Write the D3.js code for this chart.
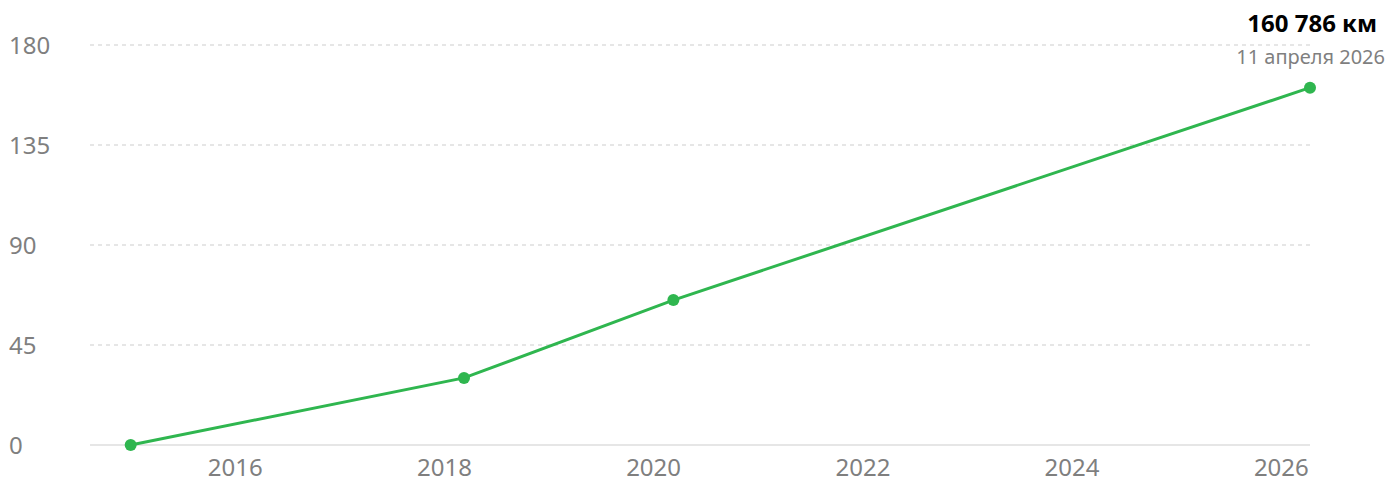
<!DOCTYPE html>
<html>
<head>
<meta charset="utf-8">
<script src="https://cdn.jsdelivr.net/npm/d3@7"></script>
<style>
  body { margin: 0; background: #fff; }
  svg { display: block; font-family: "Noto Sans", "Open Sans", sans-serif; }
</style>
</head>
<body>
<script>
document.addEventListener('DOMContentLoaded', function() {
    const w = 1390;
    const h = 483;

    // Data: mileage, thousands of km
    const dates = ["2015-01-01", "2018-03-10", "2020-03-10", "2026-04-11"];
    const mileage = [0, 30.2, 65.2, 160.786];
    const yTicks = [0, 45, 90, 135, 180];
    const xTickYears = [2016, 2018, 2020, 2022, 2024, 2026];
    const lastLabel = "160 786 км";
    const lastDate = "11 апреля 2026";

    const parse = d3.timeParse("%Y-%m-%d");
    const points = dates.map((d, i) => ({ date: parse(d), value: mileage[i] }));

    const svg = d3.select("body")
        .append("svg")
        .attr("width", w)
        .attr("height", h);

    // Scales
    const xScale = d3.scaleTime()
        .domain([new Date(2014, 7, 12), new Date(2026, 3, 11)])
        .range([90, 1310]);

    const yScale = d3.scaleLinear()
        .domain([0, 180])
        .range([445, 45]);

    // Grid lines
    svg.append("g")
        .selectAll("line")
        .data(yTicks.filter(d => d > 0))
        .enter()
        .append("line")
        .attr("x1", 90)
        .attr("x2", 1310)
        .attr("y1", d => yScale(d))
        .attr("y2", d => yScale(d))
        .attr("stroke", "#dedede")
        .attr("stroke-width", 1.5)
        .attr("stroke-dasharray", "4 4");

    // Baseline
    svg.append("line")
        .attr("x1", 90)
        .attr("x2", 1310)
        .attr("y1", yScale(0))
        .attr("y2", yScale(0))
        .attr("stroke", "#e6e6e6")
        .attr("stroke-width", 2);

    // Y labels
    svg.append("g")
        .selectAll("text")
        .data(yTicks)
        .enter()
        .append("text")
        .attr("x", 9)
        .attr("y", d => yScale(d))
        .attr("dy", "0.36em")
        .attr("fill", "#7f7f7f")
        .style("font-size", "24px")
        .text(d => d);

    // X labels
    svg.append("g")
        .selectAll("text")
        .data(xTickYears)
        .enter()
        .append("text")
        .attr("x", d => xScale(new Date(d, 0, 1)))
        .attr("y", 476)
        .attr("text-anchor", "middle")
        .attr("fill", "#7f7f7f")
        .style("font-size", "24px")
        .text(d => d);

    // Line
    const line = d3.line()
        .x(d => xScale(d.date))
        .y(d => yScale(d.value));

    svg.append("path")
        .datum(points)
        .attr("d", line)
        .attr("fill", "none")
        .attr("stroke", "#2fb64f")
        .attr("stroke-width", 3);

    svg.append("g")
        .selectAll("circle")
        .data(points)
        .enter()
        .append("circle")
        .attr("cx", d => xScale(d.date))
        .attr("cy", d => yScale(d.value))
        .attr("r", 6)
        .attr("fill", "#2fb64f");

    // Last value callout
    svg.append("text")
        .attr("x", 1377)
        .attr("y", 32)
        .attr("text-anchor", "end")
        .attr("fill", "#000")
        .style("font-size", "24px")
        .style("font-weight", "bold")
        .text(lastLabel);

    svg.append("text")
        .attr("x", 1385)
        .attr("y", 64)
        .attr("text-anchor", "end")
        .attr("fill", "#7f7f7f")
        .style("font-size", "20px")
        .text(lastDate);
});
</script>
</body>
</html>
